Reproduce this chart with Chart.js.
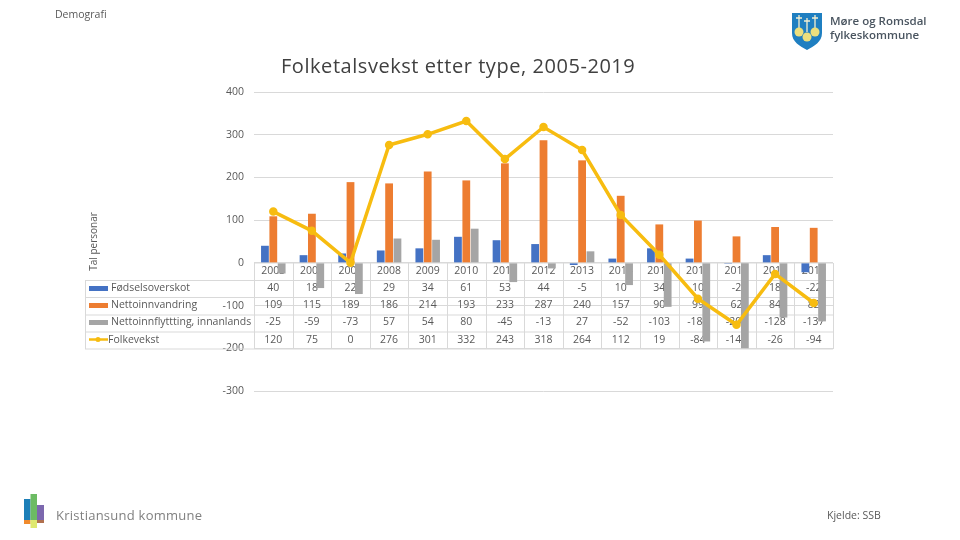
<!DOCTYPE html>
<html>
<head>
<meta charset="utf-8">
<script src="https://cdn.jsdelivr.net/npm/chart.js@4/dist/chart.umd.min.js"></script>
<style>
  html, body { margin: 0; padding: 0; background: #fff; }
  #slide { position: relative; width: 960px; height: 540px; overflow: hidden; font-family: "Open Sans", sans-serif; }
  #slide canvas { position: absolute; left: 0; top: 0; }
  .txt { position: absolute; white-space: nowrap; color: #595959; }
  svg { position: absolute; }
</style>
</head>
<body>
<div id="slide">
  <canvas id="chart" width="960" height="540"></canvas>
  <div class="txt" style="left:55px;top:7px;font-size:10.5px">Demografi</div>
  <div class="txt" style="left:281px;top:52px;font-size:20px;letter-spacing:.55px;color:#404040">Folketalsvekst etter type, 2005-2019</div>
  <div class="txt" style="left:56px;top:506px;font-size:13px;color:#808080;letter-spacing:.25px">Kristiansund kommune</div>
  <div class="txt" style="left:827px;top:508px;font-size:10.5px">Kjelde: SSB</div>
  <div class="txt" style="left:830px;top:14px;font-size:11.5px;line-height:14px;font-weight:600;color:#4a5560">Møre og Romsdal<br>fylkeskommune</div>

  <svg style="left:790px;top:11px" width="34" height="40" viewBox="0 0 34 40">
    <path d="M2 2 H32 V22 C32 31 24 35 17 39 C10 35 2 31 2 22 Z" fill="#1f7fc1"/>
    <g stroke="#f4efd0" stroke-width="1.3">
      <path d="M9 4 V17 M6 7 H12"/>
      <path d="M17 7 V21 M14 10 H20"/>
      <path d="M25 4 V17 M22 7 H28"/>
    </g>
    <g fill="#ecdf7d">
      <circle cx="9" cy="21" r="4.5"/>
      <circle cx="25" cy="21" r="4.5"/>
      <circle cx="17" cy="26" r="4.5"/>
    </g>
  </svg>
  <svg style="left:24px;top:494px" width="20" height="34" viewBox="0 0 20 34">
    <rect x="0" y="5" width="6.5" height="21" fill="#1d7fb8"/>
    <rect x="6.5" y="0" width="6.5" height="26" fill="#6cbb63"/>
    <rect x="13" y="11" width="7" height="15" fill="#7c68ae"/>
    <rect x="0" y="26" width="6.5" height="4" fill="#f08a2c"/>
    <rect x="6.5" y="26" width="6.5" height="8" fill="#dfe86f"/>
    <rect x="13" y="26" width="7" height="3" fill="#b0704f"/>
  </svg>
</div>

<script>
const years = ["2005", "2006", "2007", "2008", "2009", "2010", "2011", "2012", "2013", "2014", "2015", "2016", "2017", "2018", "2019"];
const fodselsoverskot = [40, 18, 22, 29, 34, 61, 53, 44, -5, 10, 34, 10, -2, 18, -22];
const nettoinnvandring = [109, 115, 189, 186, 214, 193, 233, 287, 240, 157, 90, 99, 62, 84, 82];
const nettoinnflytting = [-25, -59, -73, 57, 54, 80, -45, -13, 27, -52, -103, -184, -200, -128, -137];
const folkevekst = [120, 75, 0, 276, 301, 332, 243, 318, 264, 112, 19, -84, -145, -26, -94];
const yTicks = [400, 300, 200, 100, 0, -100, -200, -300];

const BLUE = "#4472C4";
const ORANGE = "#ED7D31";
const GRAY = "#A5A5A5";
const YELLOW = "#F7BC10";
const TEXT = "#595959";
const LINES = "#D9D9D9";

// the data table under the axis: the bars have to paint over it, like in the original
const tablePlugin = {
  id: "dataTable",
  beforeDatasetsDraw(chart) {
    const { ctx, scales: { x } } = chart;
    const rowLines = [263, 280.5, 297.5, 315, 332, 349];
    const left = 85, axisLeft = x.left, right = x.right;
    const step = (x.right - x.left) / years.length;

    ctx.save();
    ctx.strokeStyle = LINES;
    ctx.lineWidth = 1;
    ctx.beginPath();
    rowLines.forEach((y, i) => {
      ctx.moveTo(i === 0 ? axisLeft : left, y);
      ctx.lineTo(right, y);
    });
    for (let i = 0; i <= years.length; i++) {
      const vx = Math.round(axisLeft + step * i) + 0.5;
      ctx.moveTo(vx, 263);
      ctx.lineTo(vx, 349);
    }
    ctx.moveTo(left + 0.5, 280.5);
    ctx.lineTo(left + 0.5, 349);
    ctx.stroke();

    ctx.fillStyle = TEXT;
    ctx.font = '10.5px "Open Sans"';
    ctx.textBaseline = "middle";
    ctx.textAlign = "center";
    const rows = [years, fodselsoverskot, nettoinnvandring, nettoinnflytting, folkevekst];
    const rowY = [271, 288.5, 305.5, 322.5, 340];
    rows.forEach((row, r) => {
      row.forEach((v, i) => ctx.fillText(String(v), x.getPixelForValue(i), rowY[r]));
    });

    ctx.textAlign = "left";
    const names = chart.data.datasets.map(d => d.label);
    names.forEach((name, r) => {
      const y = rowY[r + 1];
      const ds = chart.data.datasets[r];
      if (ds.type === "line") {
        ctx.strokeStyle = ds.borderColor;
        ctx.lineWidth = 2.5;
        ctx.beginPath();
        ctx.moveTo(89, y - 0.5);
        ctx.lineTo(108, y - 0.5);
        ctx.stroke();
        ctx.fillStyle = ds.borderColor;
        ctx.beginPath();
        ctx.arc(98, y - 0.5, 2.5, 0, Math.PI * 2);
        ctx.fill();
        ctx.fillStyle = TEXT;
        ctx.fillText(name, 108, y);
      } else {
        ctx.fillStyle = ds.backgroundColor;
        ctx.fillRect(89, y - 2.5, 19, 5);
        ctx.fillStyle = TEXT;
        ctx.fillText(name, 111, y);
      }
    });
    ctx.restore();
  }
};

const barStyle = { categoryPercentage: 0.65, barPercentage: 0.93, order: 2 };

new Chart(document.getElementById("chart"), {
  type: "bar",
  data: {
    labels: years,
    datasets: [
      { label: "Fødselsoverskot", data: fodselsoverskot, backgroundColor: BLUE, ...barStyle },
      { label: "Nettoinnvandring", data: nettoinnvandring, backgroundColor: ORANGE, ...barStyle },
      { label: "Nettoinnflyttting, innanlands", data: nettoinnflytting, backgroundColor: GRAY, ...barStyle },
      {
        type: "line",
        label: "Folkevekst",
        data: folkevekst,
        borderColor: YELLOW,
        backgroundColor: YELLOW,
        borderWidth: 3.5,
        pointRadius: 2.5,
        pointBackgroundColor: YELLOW,
        pointBorderColor: YELLOW,
        tension: 0,
        order: 1
      }
    ]
  },
  options: {
    responsive: false,
    animation: false,
    layout: { padding: { left: 85, top: 92, right: 127, bottom: 149 } },
    plugins: { legend: { display: false }, tooltip: { enabled: false } },
    scales: {
      x: { display: false },
      y: {
        min: -300,
        max: 400,
        afterFit: scale => { scale.width = 169; },
        afterBuildTicks: scale => { scale.ticks = yTicks.map(value => ({ value })); },
        border: { display: false },
        grid: { color: LINES, drawTicks: false },
        ticks: { color: TEXT, padding: 10, font: { family: "Open Sans", size: 10.5 } },
        title: {
          display: true,
          text: "Tal personar",
          color: TEXT,
          padding: { top: 3, bottom: 0 },
          font: { family: "Open Sans", size: 10 }
        }
      }
    }
  },
  plugins: [tablePlugin]
});
</script>
</body>
</html>
